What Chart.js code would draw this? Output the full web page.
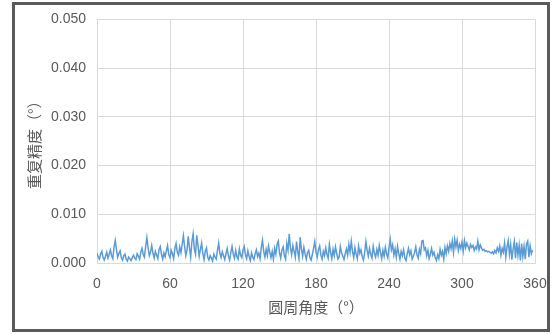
<!DOCTYPE html>
<html>
<head>
<meta charset="utf-8">
<script src="https://cdn.jsdelivr.net/npm/chart.js@4/dist/chart.umd.min.js"></script>
<style>
  html, body { margin: 0; padding: 0; background: #fff; }
  #wrap { position: relative; width: 552px; height: 334px; }
  #frame { position: absolute; left: 12px; top: 2px; width: 532px; height: 324px;
           border: 3px solid #5a5a5a; pointer-events: none; }
  canvas { position: absolute; left: 0; top: 0; }
</style>
</head>
<body>
<div id="wrap">
  <canvas id="c" width="552" height="334"></canvas>
  <div id="frame"></div>
</div>
<script>
// Repeatability (deg), one reading per degree of circumferential angle, from 0 deg
const repeatability = [
  0.0020, 0.0012, 0.0008, 0.0019, 0.0024, 0.0011, 0.0006, 0.0014, 0.0022, 0.0010,
  0.0018, 0.0027, 0.0015, 0.0009, 0.0032, 0.0046, 0.0028, 0.0012, 0.0020, 0.0025,
  0.0011, 0.0006, 0.0015, 0.0018, 0.0008, 0.0004, 0.0012, 0.0009, 0.0005, 0.0011,
  0.0016, 0.0010, 0.0007, 0.0019, 0.0014, 0.0008, 0.0022, 0.0030, 0.0017, 0.0012,
  0.0034, 0.0052, 0.0031, 0.0015, 0.0022, 0.0036, 0.0020, 0.0010, 0.0024, 0.0016,
  0.0009, 0.0028, 0.0034, 0.0018, 0.0008, 0.0021, 0.0013, 0.0025, 0.0036, 0.0017,
  0.0011, 0.0026, 0.0019, 0.0009, 0.0030, 0.0040, 0.0022, 0.0016, 0.0033, 0.0021,
  0.0038, 0.0056, 0.0034, 0.0015, 0.0027, 0.0055, 0.0031, 0.0012, 0.0044, 0.0060,
  0.0029, 0.0018, 0.0057, 0.0036, 0.0014, 0.0028, 0.0041, 0.0019, 0.0007, 0.0024,
  0.0031, 0.0012, 0.0006, 0.0015, 0.0010, 0.0004, 0.0018, 0.0012, 0.0008, 0.0026,
  0.0041, 0.0020, 0.0011, 0.0023, 0.0015, 0.0007, 0.0019, 0.0030, 0.0014, 0.0006,
  0.0022, 0.0034, 0.0018, 0.0010, 0.0026, 0.0013, 0.0008, 0.0029, 0.0016, 0.0011,
  0.0027, 0.0034, 0.0017, 0.0009, 0.0025, 0.0014, 0.0005, 0.0021, 0.0012, 0.0007,
  0.0019, 0.0027, 0.0013, 0.0020, 0.0009, 0.0031, 0.0047, 0.0024, 0.0012, 0.0028,
  0.0015, 0.0035, 0.0022, 0.0011, 0.0024, 0.0008, 0.0030, 0.0018, 0.0038, 0.0045,
  0.0021, 0.0010, 0.0027, 0.0033, 0.0015, 0.0008, 0.0040, 0.0026, 0.0060, 0.0031,
  0.0017, 0.0036, 0.0024, 0.0012, 0.0044, 0.0023, 0.0009, 0.0053, 0.0029, 0.0014,
  0.0032, 0.0019, 0.0008, 0.0021, 0.0026, 0.0011, 0.0006, 0.0018, 0.0030, 0.0044,
  0.0023, 0.0012, 0.0027, 0.0035, 0.0016, 0.0008, 0.0024, 0.0015, 0.0031, 0.0018,
  0.0010, 0.0038, 0.0022, 0.0009, 0.0028, 0.0015, 0.0033, 0.0020, 0.0008, 0.0012,
  0.0034, 0.0021, 0.0014, 0.0007, 0.0019, 0.0029, 0.0016, 0.0038, 0.0022, 0.0045,
  0.0024, 0.0011, 0.0031, 0.0018, 0.0009, 0.0035, 0.0020, 0.0027, 0.0013, 0.0006,
  0.0021, 0.0044, 0.0026, 0.0014, 0.0030, 0.0018, 0.0010, 0.0034, 0.0020, 0.0012,
  0.0028, 0.0016, 0.0036, 0.0022, 0.0009, 0.0026, 0.0014, 0.0032, 0.0019, 0.0011,
  0.0031, 0.0049, 0.0027, 0.0037, 0.0016, 0.0029, 0.0012, 0.0034, 0.0020, 0.0008,
  0.0024, 0.0015, 0.0027, 0.0010, 0.0005, 0.0019, 0.0030, 0.0017, 0.0025, 0.0008,
  0.0014, 0.0021, 0.0033, 0.0017, 0.0010, 0.0028, 0.0019, 0.0045, 0.0046, 0.0027,
  0.0031, 0.0015, 0.0026, 0.0009, 0.0018, 0.0030, 0.0016, 0.0022, 0.0011, 0.0005,
  0.0017, 0.0009, 0.0028, 0.0016, 0.0024, 0.0008, 0.0032, 0.0019, 0.0035, 0.0024,
  0.0040, 0.0029, 0.0045, 0.0022, 0.0049, 0.0033, 0.0047, 0.0026, 0.0038, 0.0030,
  0.0043, 0.0025, 0.0046, 0.0031, 0.0041, 0.0034, 0.0027, 0.0038, 0.0032, 0.0036,
  0.0026, 0.0033, 0.0029, 0.0045, 0.0027, 0.0037, 0.0031, 0.0026, 0.0028, 0.0024,
  0.0025, 0.0023, 0.0024, 0.0022, 0.0020, 0.0023, 0.0019, 0.0026, 0.0021, 0.0031,
  0.0024, 0.0035, 0.0016, 0.0030, 0.0022, 0.0041, 0.0012, 0.0033, 0.0046, 0.0018,
  0.0038, 0.0007, 0.0029, 0.0044, 0.0010, 0.0042, 0.0016, 0.0036, 0.0005, 0.0040,
  0.0013, 0.0034, 0.0008, 0.0039, 0.0045, 0.0012, 0.0035, 0.0019, 0.0026
];
const angles = repeatability.map((_, i) => i);

const xTicks = [0, 60, 120, 180, 240, 300, 360];
const yTicks = [0.000, 0.010, 0.020, 0.030, 0.040, 0.050];
const xTitle = '圆周角度（°）';
const yTitle = '重复精度（°）';

const points = angles.map((a, i) => ({ x: a, y: repeatability[i] }));

const tickFont = { family: "'Liberation Sans', Arial, sans-serif", size: 14 };
const titleFont = { family: "'Noto Sans CJK SC', sans-serif", size: 15 };
const textColor = '#595959';
const gridColor = '#d9d9d9';

new Chart(document.getElementById('c'), {
  type: 'line',
  data: {
    datasets: [{
      data: points,
      borderColor: '#5b9bd5',
      borderWidth: 1.5,
      pointRadius: 0,
      tension: 0,
      fill: false
    }]
  },
  options: {
    responsive: false,
    animation: false,
    events: [],
    layout: { padding: { top: 19, right: 17, bottom: 0, left: 0 } },
    plugins: { legend: { display: false }, tooltip: { enabled: false } },
    scales: {
      x: {
        type: 'linear',
        min: 0, max: 360,
        afterBuildTicks: s => { s.ticks = xTicks.map(v => ({ value: v })); },
        afterFit: s => { s.height = 71; s.paddingLeft = 0; s.paddingRight = 0; },
        ticks: { color: textColor, font: tickFont, padding: 13, maxRotation: 0,
                 callback: v => String(v) },
        grid: { color: gridColor, lineWidth: 1, drawTicks: false },
        border: { color: gridColor },
        title: { display: true, text: xTitle, color: textColor, font: titleFont,
                 padding: { top: 0, bottom: 18 } }
      },
      y: {
        min: 0, max: 0.05,
        afterBuildTicks: s => { s.ticks = yTicks.map(v => ({ value: v })); },
        afterFit: s => { s.width = 97; },
        ticks: { color: textColor, font: tickFont, padding: 11,
                 callback: v => Number(v).toFixed(3) },
        grid: { color: gridColor, lineWidth: 1, drawTicks: false },
        border: { display: false },
        title: { display: true, text: yTitle, color: textColor, font: titleFont,
                 padding: { top: 25, bottom: 0 } }
      }
    }
  }
});
</script>
</body>
</html>
